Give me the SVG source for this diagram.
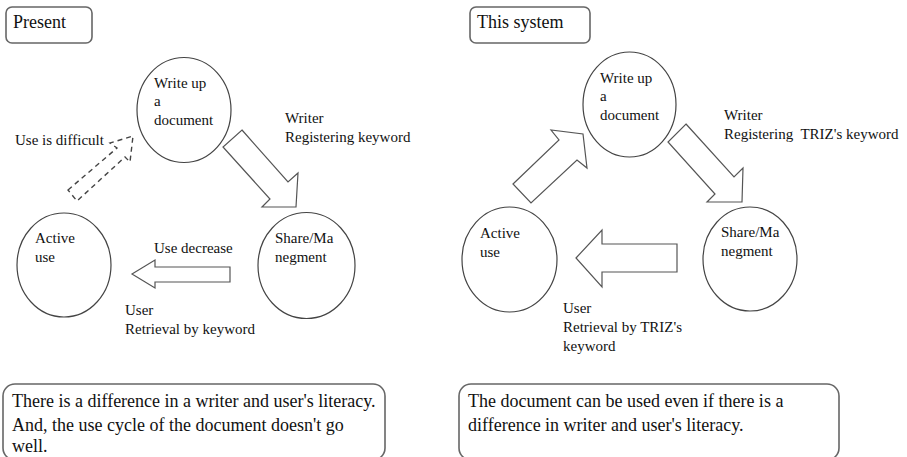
<svg xmlns="http://www.w3.org/2000/svg" width="907" height="457" viewBox="0 0 907 457">
<style>
text{font-family:"Liberation Serif","Times New Roman",serif;fill:#111}
.t{font-size:18px}
.n{font-size:15px}
.box{fill:#fff;stroke:#666;stroke-width:1.6}
.node{fill:#fff;stroke:#444;stroke-width:1.2}
.arr{fill:#fff;stroke:#555;stroke-width:1.2;stroke-linejoin:miter}
.dash{fill:none;stroke:#444;stroke-width:1.4;stroke-dasharray:5,4}
</style>
<rect width="907" height="457" fill="#fff"/>

<!-- Left panel -->
<g id="present-title">
<rect class="box" x="6" y="7" width="86" height="36" rx="6"/>
<text class="t" x="13" y="28">Present</text>
</g>
<g id="left-write">
<ellipse class="node" cx="184" cy="110" rx="47" ry="52.5"/>
<text class="n" x="154" y="88">Write up</text>
<text class="n" x="154" y="106">a</text>
<text class="n" x="154" y="125">document</text>
</g>
<g id="left-active">
<ellipse class="node" cx="64" cy="265" rx="47" ry="52"/>
<text class="n" x="35" y="243">Active</text>
<text class="n" x="35" y="262">use</text>
</g>
<g id="left-share">
<ellipse class="node" cx="306.5" cy="265.5" rx="48.5" ry="53"/>
<text class="n" x="275" y="243">Share/Ma</text>
<text class="n" x="275" y="262">negment</text>
</g>
<g id="left-connectors">
<polygon class="dash" points="68,190 117,148 110,143 133,136 130,162 125,157 77,201"/>
<polygon class="arr" points="242,130 288,182 298,173 296,207 262,207 270,199 223,147"/>
<polygon class="arr" points="132,274 155,260 155,267 230,267 230,282 155,282 155,288"/>
</g>
<g id="left-labels">
<text class="n" x="15" y="145">Use is difficult</text>
<text class="n" x="285" y="123">Writer</text>
<text class="n" x="285" y="142">Registering keyword</text>
<text class="n" x="154" y="253">Use decrease</text>
<text class="n" x="125" y="315">User</text>
<text class="n" x="125" y="334">Retrieval by keyword</text>
</g>
<g id="left-note">
<rect class="box" x="3" y="384" width="382" height="76" rx="12"/>
<text class="t" x="12" y="407">There is a difference in a writer and user's literacy.</text>
<text class="t" x="12" y="431">And, the use cycle of the document doesn't go</text>
<text class="t" x="12" y="452">well.</text>
</g>

<!-- Right panel -->
<g id="system-title">
<rect class="box" x="470" y="7" width="120" height="36" rx="6"/>
<text class="t" x="477" y="28">This system</text>
</g>
<g id="right-write">
<ellipse class="node" cx="629.5" cy="104.5" rx="46.5" ry="52.5"/>
<text class="n" x="600" y="83">Write up</text>
<text class="n" x="600" y="101">a</text>
<text class="n" x="600" y="120">document</text>
</g>
<g id="right-active">
<ellipse class="node" cx="509.5" cy="259.5" rx="47.5" ry="52.5"/>
<text class="n" x="480" y="238">Active</text>
<text class="n" x="480" y="257">use</text>
</g>
<g id="right-share">
<ellipse class="node" cx="750" cy="259" rx="47" ry="52"/>
<text class="n" x="721" y="237">Share/Ma</text>
<text class="n" x="721" y="256">negment</text>
</g>
<g id="right-connectors">
<polygon class="arr" points="513,184 559,140 551,130 583,134 587,168 577,160 531,203"/>
<polygon class="arr" points="686,124 734,177 743,168 742,202 707,202 715,194 668,142"/>
<polygon class="arr" points="576,258 602,230 602,244 677,244 677,272 602,272 602,287"/>
</g>
<g id="right-labels">
<text class="n" x="724" y="120">Writer</text>
<text class="n" x="724" y="139" xml:space="preserve">Registering  TRIZ's keyword</text>
<text class="n" x="563" y="313">User</text>
<text class="n" x="563" y="332">Retrieval by TRIZ's</text>
<text class="n" x="563" y="351">keyword</text>
</g>
<g id="right-note">
<rect class="box" x="459" y="384" width="380" height="76" rx="12"/>
<text class="t" x="468" y="407">The document can be used even if there is a</text>
<text class="t" x="468" y="431">difference in writer and user's literacy.</text>
</g>
</svg>
